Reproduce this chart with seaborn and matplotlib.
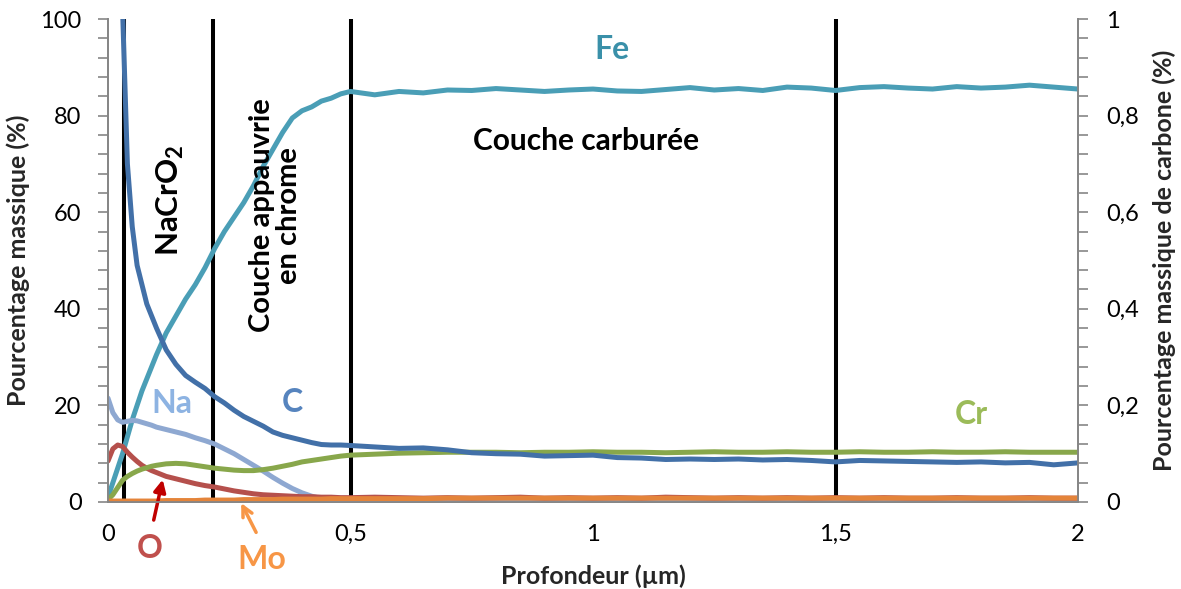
import numpy as np
import pandas as pd
import matplotlib
matplotlib.use("Agg")
import matplotlib.pyplot as plt
import seaborn as sns

# ---------------- data ----------------
depth = [0.00, 0.01, 0.02, 0.03, 0.04, 0.05, 0.06, 0.07, 0.08, 0.09, 0.10,
         0.12, 0.14, 0.16, 0.18, 0.20, 0.22, 0.24, 0.26, 0.28, 0.30,
         0.32, 0.34, 0.36, 0.38, 0.40, 0.42, 0.44, 0.46, 0.48, 0.50,
         0.55, 0.60, 0.65, 0.70, 0.75, 0.80, 0.85, 0.90, 0.95, 1.00,
         1.05, 1.10, 1.15, 1.20, 1.25, 1.30, 1.35, 1.40, 1.45, 1.50,
         1.55, 1.60, 1.65, 1.70, 1.75, 1.80, 1.85, 1.90, 1.95, 2.00]

fe = [1.0, 4.0, 7.0, 10.0, 13.5, 17.0, 20.0, 23.0, 25.5, 28.0, 30.5,
      35.0, 38.5, 42.0, 45.0, 48.5, 52.5, 56.0, 59.0, 62.0, 65.5,
      69.5, 73.0, 76.5, 79.5, 81.0, 81.8, 83.0, 83.6, 84.5, 85.0,
      84.3, 85.0, 84.7, 85.3, 85.2, 85.6, 85.3, 85.0, 85.3, 85.5,
      85.1, 85.0, 85.4, 85.8, 85.3, 85.6, 85.2, 85.9, 85.7, 85.2,
      85.8, 86.0, 85.7, 85.5, 86.0, 85.7, 85.9, 86.3, 85.9, 85.5]

na = [21.5, 18.5, 17.0, 16.5, 16.7, 16.9, 16.8, 16.5, 16.2, 15.9, 15.5,
      15.0, 14.5, 14.0, 13.3, 12.7, 12.0, 11.0, 10.0, 8.8, 7.6,
      6.4, 5.1, 3.9, 2.8, 1.9, 1.2, 0.7, 0.4, 0.2, 0.1,
      0.1, 0.1, 0.1, 0.1, 0.1, 0.1, 0.1, 0.1, 0.1, 0.1,
      0.1, 0.1, 0.1, 0.1, 0.1, 0.1, 0.1, 0.1, 0.1, 0.1,
      0.1, 0.1, 0.1, 0.1, 0.1, 0.1, 0.1, 0.1, 0.1, 0.1]

o = [8.5, 11.0, 11.8, 11.5, 10.3, 9.3, 8.4, 7.6, 7.0, 6.5, 6.1,
     5.3, 4.8, 4.3, 3.8, 3.4, 3.1, 2.7, 2.3, 2.0, 1.7,
     1.5, 1.4, 1.3, 1.2, 1.1, 1.1, 1.0, 1.0, 0.9, 0.9,
     1.0, 0.9, 0.8, 0.9, 0.8, 0.9, 1.0, 0.8, 0.9, 0.8,
     0.9, 0.8, 1.0, 0.9, 0.8, 0.9, 0.8, 0.9, 0.8, 0.9,
     0.8, 0.9, 0.8, 0.8, 0.9, 0.8, 0.8, 0.9, 0.8, 0.8]

cr = [0.5, 1.5, 3.0, 4.5, 5.3, 5.9, 6.4, 6.8, 7.1, 7.4, 7.6,
      7.9, 8.0, 7.9, 7.6, 7.3, 7.0, 6.8, 6.6, 6.5, 6.5,
      6.7, 7.0, 7.4, 7.8, 8.3, 8.6, 8.9, 9.2, 9.5, 9.7,
      9.9, 10.1, 10.2, 10.3, 10.3, 10.3, 10.2, 10.3, 10.3, 10.4,
      10.3, 10.3, 10.2, 10.3, 10.4, 10.3, 10.3, 10.4, 10.3, 10.3,
      10.4, 10.3, 10.3, 10.4, 10.3, 10.3, 10.4, 10.3, 10.3, 10.3]

mo = [0.2, 0.2, 0.2, 0.2, 0.2, 0.2, 0.2, 0.2, 0.2, 0.2, 0.2,
      0.3, 0.3, 0.3, 0.3, 0.4, 0.4, 0.4, 0.4, 0.5, 0.5,
      0.5, 0.5, 0.6, 0.6, 0.6, 0.6, 0.6, 0.7, 0.7, 0.7,
      0.7, 0.7, 0.7, 0.8, 0.8, 0.8, 0.8, 0.8, 0.8, 0.8,
      0.8, 0.8, 0.8, 0.8, 0.8, 0.8, 0.8, 0.8, 0.8, 0.8,
      0.8, 0.8, 0.8, 0.8, 0.8, 0.8, 0.8, 0.8, 0.8, 0.8]

# carbon, right axis (%)
c = [np.nan, np.nan, 1.30, 1.02, 0.70, 0.57, 0.49, 0.45, 0.41, 0.385, 0.36,
     0.315, 0.285, 0.262, 0.248, 0.235, 0.218, 0.205, 0.19, 0.177, 0.167,
     0.157, 0.145, 0.138, 0.133, 0.128, 0.123, 0.119, 0.118, 0.118, 0.117,
     0.114, 0.111, 0.112, 0.108, 0.102, 0.100, 0.099, 0.095, 0.096, 0.097,
     0.092, 0.091, 0.088, 0.089, 0.088, 0.089, 0.087, 0.088, 0.086, 0.083,
     0.086, 0.085, 0.084, 0.083, 0.082, 0.083, 0.081, 0.082, 0.077, 0.081]

boundaries = [0.032, 0.217, 0.5, 1.5]

x_ticks = [0, 0.5, 1, 1.5, 2]
x_labels = ["0", "0,5", "1", "1,5", "2"]
yl_ticks = [0, 20, 40, 60, 80, 100]
yr_ticks = [0, 0.2, 0.4, 0.6, 0.8, 1.0]
yr_labels = ["0", "0,2", "0,4", "0,6", "0,8", "1"]

# ---------------- style ----------------
sns.set_theme(style="white")
plt.rcParams['font.family'] = ['Lato', 'DejaVu Sans']
plt.rcParams['mathtext.fontset'] = 'custom'
plt.rcParams['mathtext.rm'] = 'Lato'
plt.rcParams['mathtext.bf'] = 'Lato:bold'

GRAY = "#868686"
col_fe, col_c, col_na = "#4A9EB6", "#4270A8", "#8EA8D1"
col_o, col_cr, col_mo = "#B5504C", "#88A74B", "#E4843A"

fig = plt.figure(figsize=(11.81, 5.89), dpi=100)
ax = fig.add_axes([108/1181, 87/589, 970/1181, 483/589])
ax2 = ax.twinx()

df = pd.DataFrame({"depth": depth, "Fe": fe, "Na": na, "O": o, "Cr": cr, "Mo": mo, "C": c})

ax.vlines(boundaries, 0, 100, color="black", lw=2.9, zorder=1)
LW = 3.6
for name, col in [("Fe", col_fe), ("Na", col_na), ("O", col_o), ("Cr", col_cr), ("Mo", col_mo)]:
    sns.lineplot(data=df, x="depth", y=name, color=col, lw=LW, ax=ax, zorder=3)
sns.lineplot(data=df, x="depth", y="C", color=col_c, lw=LW, ax=ax2)

ax.set_xlim(0, 2)
ax.set_ylim(0, 100)
ax2.set_ylim(0, 1)

ax.set_xticks(x_ticks)
ax.set_xticklabels(x_labels)
ax.set_xticks(np.arange(0, 2.001, 0.1), minor=True)
ax.set_yticks(yl_ticks)
ax.set_yticks(np.arange(0, 100.1, 4), minor=True)
ax2.set_yticks(yr_ticks)
ax2.set_yticklabels(yr_labels)
ax2.set_yticks(np.arange(0, 1.001, 0.04), minor=True)

for a in (ax, ax2):
    a.tick_params(which="both", direction="out", color=GRAY, width=1.2, labelsize=17,
                  labelcolor="black", length=7)
    for s in a.spines.values():
        s.set_color(GRAY)
        s.set_linewidth(1.3)
    a.spines["top"].set_visible(False)
ax.tick_params(axis="x", which="major", pad=9)
ax.tick_params(axis="y", which="major", pad=12)
ax2.tick_params(axis="y", which="major", pad=13)

ax.set_xlabel("Profondeur (µm)", fontsize=18, fontweight="bold")
ax.set_ylabel("Pourcentage massique (%)", fontsize=18, fontweight="bold")
ax2.set_ylabel("Pourcentage massique de carbone (%)", fontsize=18, fontweight="bold")
ax.xaxis.set_label_coords(0.5, (502 - 564) / 483)
ax.yaxis.set_label_coords((30 - 108) / 970, 0.5)
ax2.yaxis.set_label_coords((1152 - 108) / 970, 0.5)

# annotations
bold = dict(fontweight="bold", ha="center", va="center")
ax.text(1.04, 93.6, "Fe", color="#3A90A9", fontsize=23, **bold)
ax.text(0.985, 74.7, "Couche carburée", color="black", fontsize=21.5, **bold)
ax.text(0.128, 62.5, r"NaCrO$_{\mathbf{2}}$", color="black", fontsize=22.5, rotation=90, **bold)
ax.text(0.345, 59.4, "Couche appauvrie\nen chrome", color="black", fontsize=21, rotation=90,
        linespacing=1.05, **bold)
ax.text(0.132, 20.3, "Na", color="#8DB3E2", fontsize=23, **bold)
ax.text(0.38, 20.5, "C", color="#5684BE", fontsize=23, **bold)
ax.text(1.779, 18.2, "Cr", color="#9BBB59", fontsize=23, **bold)
ax.text(0.085, -9.7, "O", color="#C0504D", fontsize=23, clip_on=False, **bold)
ax.text(0.318, -12.0, "Mo", color="#F79646", fontsize=23, clip_on=False, **bold)
ax.annotate("", xy=(0.114, 5.2), xytext=(0.093, -4.3), annotation_clip=False,
            arrowprops=dict(arrowstyle="-|>", color="#C00000", lw=2.5, mutation_scale=18))
ax.annotate("", xy=(0.272, 0.3), xytext=(0.308, -6.8), annotation_clip=False,
            arrowprops=dict(arrowstyle="->", color="#F79646", lw=2.5, mutation_scale=18))

fig.savefig("out.png", dpi=100)
